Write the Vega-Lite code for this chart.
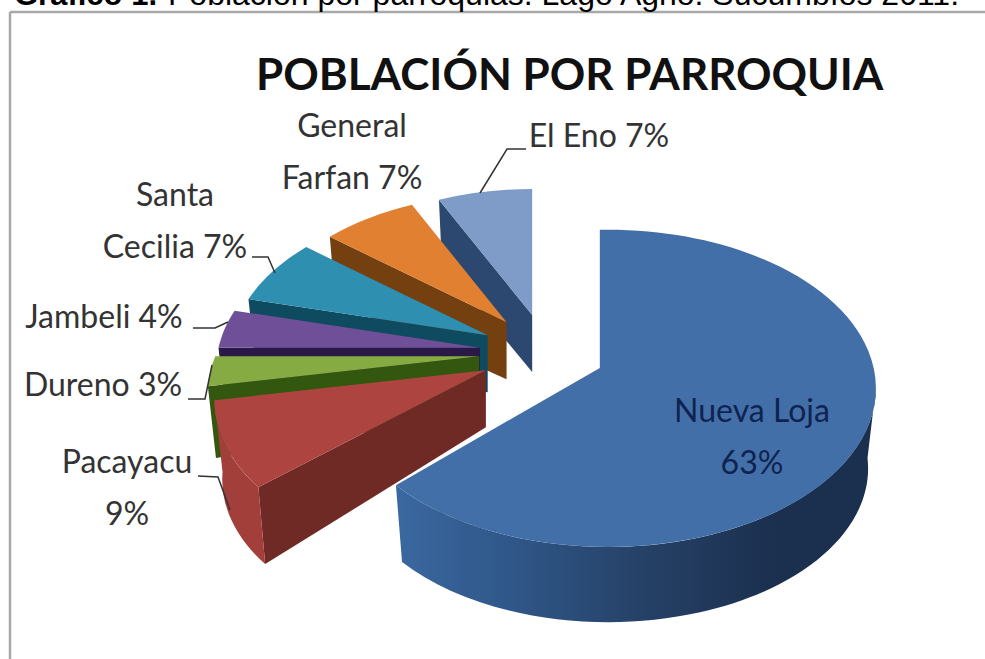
{
  "$schema": "https://vega.github.io/schema/vega-lite/v6.json",
  "width": 985,
  "height": 659,
  "padding": 0,
  "autosize": {"type": "none"},
  "background": "white",
  "config": {"view": {"stroke": null}},
  "params": [
    {"name": "P", "value": 0.129},
    {"name": "D", "value": 70},
    {"name": "DA", "value": 57},
    {"name": "C", "value": 0.97}
  ],
  "data": {
    "values": [
      {"parroquia": "Nueva Loja", "porcentaje": 63, "etiqueta": "Nueva  Loja\n63%"},
      {"parroquia": "Pacayacu", "porcentaje": 9, "etiqueta": "Pacayacu\n9%"},
      {"parroquia": "Dureno", "porcentaje": 3, "etiqueta": "Dureno 3%"},
      {"parroquia": "Jambeli", "porcentaje": 4, "etiqueta": "Jambeli 4%"},
      {"parroquia": "Santa Cecilia", "porcentaje": 7, "etiqueta": "Santa\nCecilia 7%"},
      {"parroquia": "General Farfan", "porcentaje": 7, "etiqueta": "General\nFarfan 7%"},
      {"parroquia": "El Eno", "porcentaje": 7, "etiqueta": "El Eno 7%"}
    ]
  },
  "transform": [
    {"window": [{"op": "sum", "field": "porcentaje", "as": "acum"}]},
    {"calculate": "2*PI*datum.acum/100", "as": "a1"},
    {"calculate": "datum.a1-2*PI*datum.porcentaje/100", "as": "a0"},
    {"calculate": "(datum.a0+datum.a1)/2", "as": "mid"},
    {"calculate": "datum.porcentaje>50", "as": "mayor"},
    {"calculate": "542+63*sin(datum.mid)+4*max(0,cos(datum.mid))", "as": "ax"},
    {"calculate": "352.7-38.6*cos(datum.mid)", "as": "ay"},
    {"calculate": "datum.mayor?255:264-20*max(0,cos(datum.mid))", "as": "R"},
    {"calculate": "datum.mayor?255:datum.R+30*max(0,-cos(datum.a0))", "as": "R0"},
    {"calculate": "datum.mayor?255:datum.R+30*max(0,-cos(datum.a1))", "as": "R1"},
    {"calculate": "156-14*max(0,cos(datum.mid))", "as": "Ry"},
    {"calculate": "1+P*cos(datum.a0)", "as": "w0"},
    {"calculate": "1+P*cos(datum.a1)", "as": "w1"},
    {"calculate": "round(10*datum.R0*sin(datum.a0)/datum.w0)/10", "as": "px0"},
    {"calculate": "round(10*datum.R1*sin(datum.a1)/datum.w1)/10", "as": "px1"},
    {"calculate": "round(-10*datum.Ry*cos(datum.a0)/datum.w0)/10", "as": "py0"},
    {"calculate": "round(-10*datum.Ry*cos(datum.a1)/datum.w1)/10", "as": "py1"},
    {"calculate": "datum.mayor?276:datum.px0", "as": "wx0"},
    {"calculate": "datum.mayor?20:datum.py0", "as": "wy0"},
    {"calculate": "datum.mayor?1:datum.w0", "as": "ww0"},
    {"calculate": "round(10*C*datum.wx0)/10", "as": "qx0"},
    {"calculate": "round(10*C*datum.px1)/10", "as": "qx1"},
    {"calculate": "round(10*C*datum.px0)/10", "as": "cx0"},
    {"calculate": "round(10*(datum.wy0+D/datum.ww0))/10", "as": "qy0"},
    {"calculate": "round(10*(datum.py1+D/datum.w1))/10", "as": "qy1"},
    {"calculate": "round(10*(datum.py0+D/datum.w0))/10", "as": "cy0"},
    {"calculate": "round(datum.R*10*(datum.mayor?1.05:1.02))/10", "as": "erx"},
    {"calculate": "round(10*datum.Ry/(1-P*P))/10", "as": "ery"},
    {"calculate": "datum.erx+','+datum.ery+' 0 '+(datum.mayor?1:0)", "as": "arco"},
    {"calculate": "datum.erx+','+datum.ery+' 0 0'", "as": "arcoSup"},
    {"calculate": "round(10*C*datum.erx)/10+','+round(10*C*datum.ery)/10+' 0 0'", "as": "arcoInf"},
    {"calculate": "'M0,0L'+datum.px0+','+datum.py0+'A'+datum.arco+' 1 '+datum.px1+','+datum.py1+'Z'", "as": "tapa"},
    {"calculate": "'M'+datum.wx0+','+datum.wy0+'A'+datum.arcoSup+' 1 '+datum.px1+','+datum.py1+'L'+datum.qx1+','+datum.qy1+'A'+datum.arcoInf+' 0 '+datum.qx0+','+datum.qy0+'Z'", "as": "pared"},
    {"calculate": "'M0,0L'+datum.px0+','+datum.py0+'L'+datum.cx0+','+datum.cy0+'L0,'+DA+'Z'", "as": "corte"},
    {"calculate": "{'Nueva Loja':752,'Pacayacu':127,'Dureno':103,'Jambeli':104,'Santa Cecilia':175,'General Farfan':352,'El Eno':599}[datum.parroquia]", "as": "lx"},
    {"calculate": "{'Nueva Loja':422,'Pacayacu':473,'Dureno':396,'Jambeli':328,'Santa Cecilia':206,'General Farfan':137,'El Eno':147}[datum.parroquia]", "as": "ly"},
    {"calculate": "{'Pacayacu':'M198,476L218,477L230,510','Dureno':'M188,399L205,399L212,365','Jambeli':'M193,328L215,328L228,322','Santa Cecilia':'M252,257L268,257L275,273','El Eno':'M480,193L507,149L526,149'}[datum.parroquia]", "as": "guia"}
  ],
  "resolve": {"scale": {"color": "independent"}},
  "layer": [
    {
      "data": {"values": [{"x": 10, "y": 12, "x2": 985, "y2": 12}, {"x": 10, "y": 12, "x2": 10, "y2": 659}]},
      "transform": [],
      "mark": {"type": "rule", "color": "#a8a8a8", "strokeWidth": 2.5},
      "encoding": {
        "x": {"field": "x", "type": "quantitative", "scale": {"domain": [0, 985], "nice": false, "zero": false}, "axis": null},
        "y": {"field": "y", "type": "quantitative", "scale": {"domain": [659, 0], "nice": false, "zero": false}, "axis": null},
        "x2": {"field": "x2"},
        "y2": {"field": "y2"}
      }
    },
    {
      "transform": [{"filter": "datum.parroquia === 'Nueva Loja'"}],
      "mark": {"type": "point", "filled": true, "size": 4, "opacity": 1, "fill": {
        "gradient": "linear", "x1": 0, "x2": 1, "y1": 0, "y2": 0,
        "stops": [
          {"offset": 0, "color": "#3a68a0"},
          {"offset": 0.25, "color": "#2f5688"},
          {"offset": 0.5, "color": "#264268"},
          {"offset": 0.8, "color": "#1b2f4e"},
          {"offset": 1, "color": "#1b2f4e"}
        ]}},
      "encoding": {
        "x": {"field": "ax", "type": "quantitative", "axis": null},
        "y": {"field": "ay", "type": "quantitative", "axis": null},
        "shape": {"field": "pared", "type": "nominal", "scale": null}
      }
    },
    {
      "transform": [{"filter": "datum.parroquia !== 'Nueva Loja'"}],
      "mark": {"type": "point", "filled": true, "size": 4, "opacity": 1},
      "encoding": {
        "x": {"field": "ax", "type": "quantitative", "axis": null},
        "y": {"field": "ay", "type": "quantitative", "axis": null},
        "shape": {"field": "corte", "type": "nominal", "scale": null},
        "order": {"field": "acum", "sort": "descending"},
        "color": {"field": "parroquia", "type": "nominal", "legend": null, "scale": {
          "domain": ["Pacayacu", "Dureno", "Jambeli", "Santa Cecilia", "General Farfan", "El Eno"],
          "range": ["#6f2a26", "#33570f", "#2a1846", "#0e4a60", "#74400f", "#2d4870"]}}
      }
    },
    {
      "transform": [{"filter": "datum.parroquia === 'Pacayacu'"}],
      "mark": {"type": "point", "filled": true, "size": 4, "opacity": 1, "color": "#a33f3b"},
      "encoding": {
        "x": {"field": "ax", "type": "quantitative", "axis": null},
        "y": {"field": "ay", "type": "quantitative", "axis": null},
        "shape": {"field": "pared", "type": "nominal", "scale": null}
      }
    },
    {
      "mark": {"type": "point", "filled": true, "size": 4, "opacity": 1},
      "encoding": {
        "x": {"field": "ax", "type": "quantitative", "axis": null},
        "y": {"field": "ay", "type": "quantitative", "axis": null},
        "shape": {"field": "tapa", "type": "nominal", "scale": null},
        "order": {"field": "acum", "sort": "descending"},
        "color": {"field": "parroquia", "type": "nominal", "legend": null, "scale": {
          "domain": ["Nueva Loja", "Pacayacu", "Dureno", "Jambeli", "Santa Cecilia", "General Farfan", "El Eno"],
          "range": ["#436fa8", "#ae4440", "#86ab42", "#6f4f98", "#2f8fb0", "#e08030", "#7f9bc8"]}}
      }
    },
    {
      "transform": [{"filter": "datum.guia != null"}],
      "mark": {"type": "point", "filled": false, "size": 4, "opacity": 1, "strokeWidth": 1.5, "color": "#333333"},
      "encoding": {
        "x": {"datum": 0, "type": "quantitative", "axis": null},
        "y": {"datum": 0, "type": "quantitative", "axis": null},
        "shape": {"field": "guia", "type": "nominal", "scale": null}
      }
    },
    {
      "mark": {"type": "text", "font": "Lato", "fontSize": 32, "align": "center", "baseline": "alphabetic", "lineBreak": "\n", "lineHeight": 52},
      "encoding": {
        "x": {"field": "lx", "type": "quantitative", "axis": null},
        "y": {"field": "ly", "type": "quantitative", "axis": null},
        "text": {"field": "etiqueta"},
        "color": {"condition": {"test": "datum.parroquia === 'Nueva Loja'", "value": "#0f2350"}, "value": "#333333"}
      }
    },
    {
      "data": {"values": [{"texto": "POBLACIÓN POR PARROQUIA", "x": 256, "y": 90}]},
      "transform": [],
      "mark": {"type": "text", "font": "Lato", "fontWeight": "bold", "fontSize": 44, "align": "left", "baseline": "alphabetic", "color": "#111111"},
      "encoding": {
        "x": {"field": "x", "type": "quantitative", "axis": null},
        "y": {"field": "y", "type": "quantitative", "axis": null},
        "text": {"field": "texto"}
      }
    },
    {
      "data": {"values": [{"texto": "Gráfico 1.", "x": 14, "y": 5}]},
      "transform": [],
      "mark": {"type": "text", "font": "Liberation Sans", "fontWeight": "bold", "fontSize": 31, "align": "left", "baseline": "alphabetic", "color": "#000000"},
      "encoding": {
        "x": {"field": "x", "type": "quantitative", "axis": null},
        "y": {"field": "y", "type": "quantitative", "axis": null},
        "text": {"field": "texto"}
      }
    },
    {
      "data": {"values": [{"texto": "Población por parroquias. Lago Agrio. Sucumbíos 2011.", "x": 168, "y": 5}]},
      "transform": [],
      "mark": {"type": "text", "font": "Liberation Sans", "fontSize": 32, "align": "left", "baseline": "alphabetic", "color": "#000000"},
      "encoding": {
        "x": {"field": "x", "type": "quantitative", "axis": null},
        "y": {"field": "y", "type": "quantitative", "axis": null},
        "text": {"field": "texto"}
      }
    }
  ]
}
